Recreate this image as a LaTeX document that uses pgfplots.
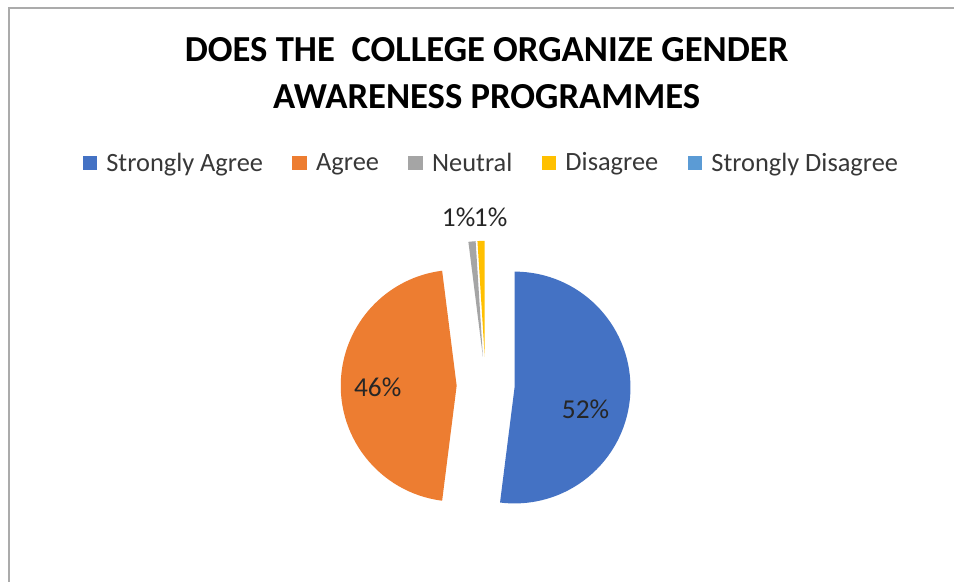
\documentclass[border=0pt]{standalone}
\usepackage{fontspec}
\setmainfont{Carlito}
\usepackage{pgfplots}
\usepackage{pgfplotstable}
\pgfplotsset{compat=1.18}
\definecolor{cSA}{HTML}{4472C4}
\definecolor{cA}{HTML}{ED7D31}
\definecolor{cN}{HTML}{A5A5A5}
\definecolor{cD}{HTML}{FFC000}
\definecolor{cSD}{HTML}{5B9BD5}
\definecolor{frame}{HTML}{ABABAB}
\newcommand\labelfont{\fontsize{20.5}{24}\selectfont}
\newcommand\sq[1]{\addlegendimage{legend image code/.code={\fill[#1] (0pt,-5pt) rectangle (10pt,5pt); \path (15.5pt,0pt);}}}
% value (percent), colour, label position (px)
\pgfplotstableread{
value color lx ly
52 cSA 586 410
46 cA 378 388
1 cN 459 217
1 cD 491 217
0 cSD 0 0
}\piedata
\begin{document}
\begin{tikzpicture}
\begin{axis}[
  scale only axis,
  width=716.25pt, height=436.5pt,
  xmin=0, xmax=955, ymin=0, ymax=582,
  y dir=reverse,
  hide axis,
  clip=false,
  legend columns=-1,
  legend style={at={(axis cs:492,163)}, anchor=center, draw=none, fill=none,
    font=\fontsize{19.8}{23}\selectfont, text=black!78,
    /tikz/every even column/.append style={column sep=20pt}},
]
\fill[white] (axis cs:0,0) rectangle (axis cs:955,582);
\draw[frame, line width=1.1pt] (axis cs:9,582) -- (axis cs:9,8) -- (axis cs:955,8);
\node[font=\bfseries\fontsize{27.5}{35}\selectfont, align=center] at (axis cs:487,73)
  {DOES THE\ \ COLLEGE ORGANIZE GENDER\\AWARENESS PROGRAMMES};
\def\cum{0}
\pgfplotstablegetrowsof{\piedata}
\pgfmathtruncatemacro\nrows{\pgfplotsretval-1}
\pgfplotsforeachungrouped \i in {0,...,\nrows}{
  \pgfplotstablegetelem{\i}{value}\of\piedata \let\v\pgfplotsretval
  \pgfplotstablegetelem{\i}{color}\of\piedata \let\c\pgfplotsretval
  \pgfplotstablegetelem{\i}{lx}\of\piedata \let\lx\pgfplotsretval
  \pgfplotstablegetelem{\i}{ly}\of\piedata \let\ly\pgfplotsretval
  \pgfmathsetmacro\ta{\cum*3.6}
  \pgfmathsetmacro\tb{(\cum+\v)*3.6}
  \pgfmathsetmacro\tm{(\ta+\tb)/2}
  \pgfmathsetmacro\cx{486+29*sin(\tm)}
  \pgfmathsetmacro\cy{386-29*cos(\tm)}
  \pgfmathsetmacro\aa{90-\ta}
  \pgfmathsetmacro\ab{90-\tb}
  \pgfmathtruncatemacro\vi{\v}
  \pgfmathsetmacro\cum{\cum+\v}
  \ifnum\vi>0
    \edef\temp{\noexpand\fill[\c] (axis cs:\cx,\cy) -- ++(\aa:87pt) arc[start angle=\aa, end angle=\ab, radius=87pt] -- cycle;
      \noexpand\node[font=\noexpand\labelfont, text=black!85, inner sep=0pt] at (axis cs:\lx,\ly) {\vi\%};}
    \temp
  \fi
}
\sq{cSA}\addlegendentry{Strongly Agree}
\sq{cA}\addlegendentry{Agree}
\sq{cN}\addlegendentry{Neutral}
\sq{cD}\addlegendentry{Disagree}
\sq{cSD}\addlegendentry{Strongly Disagree}
\end{axis}
\end{tikzpicture}
\end{document}
